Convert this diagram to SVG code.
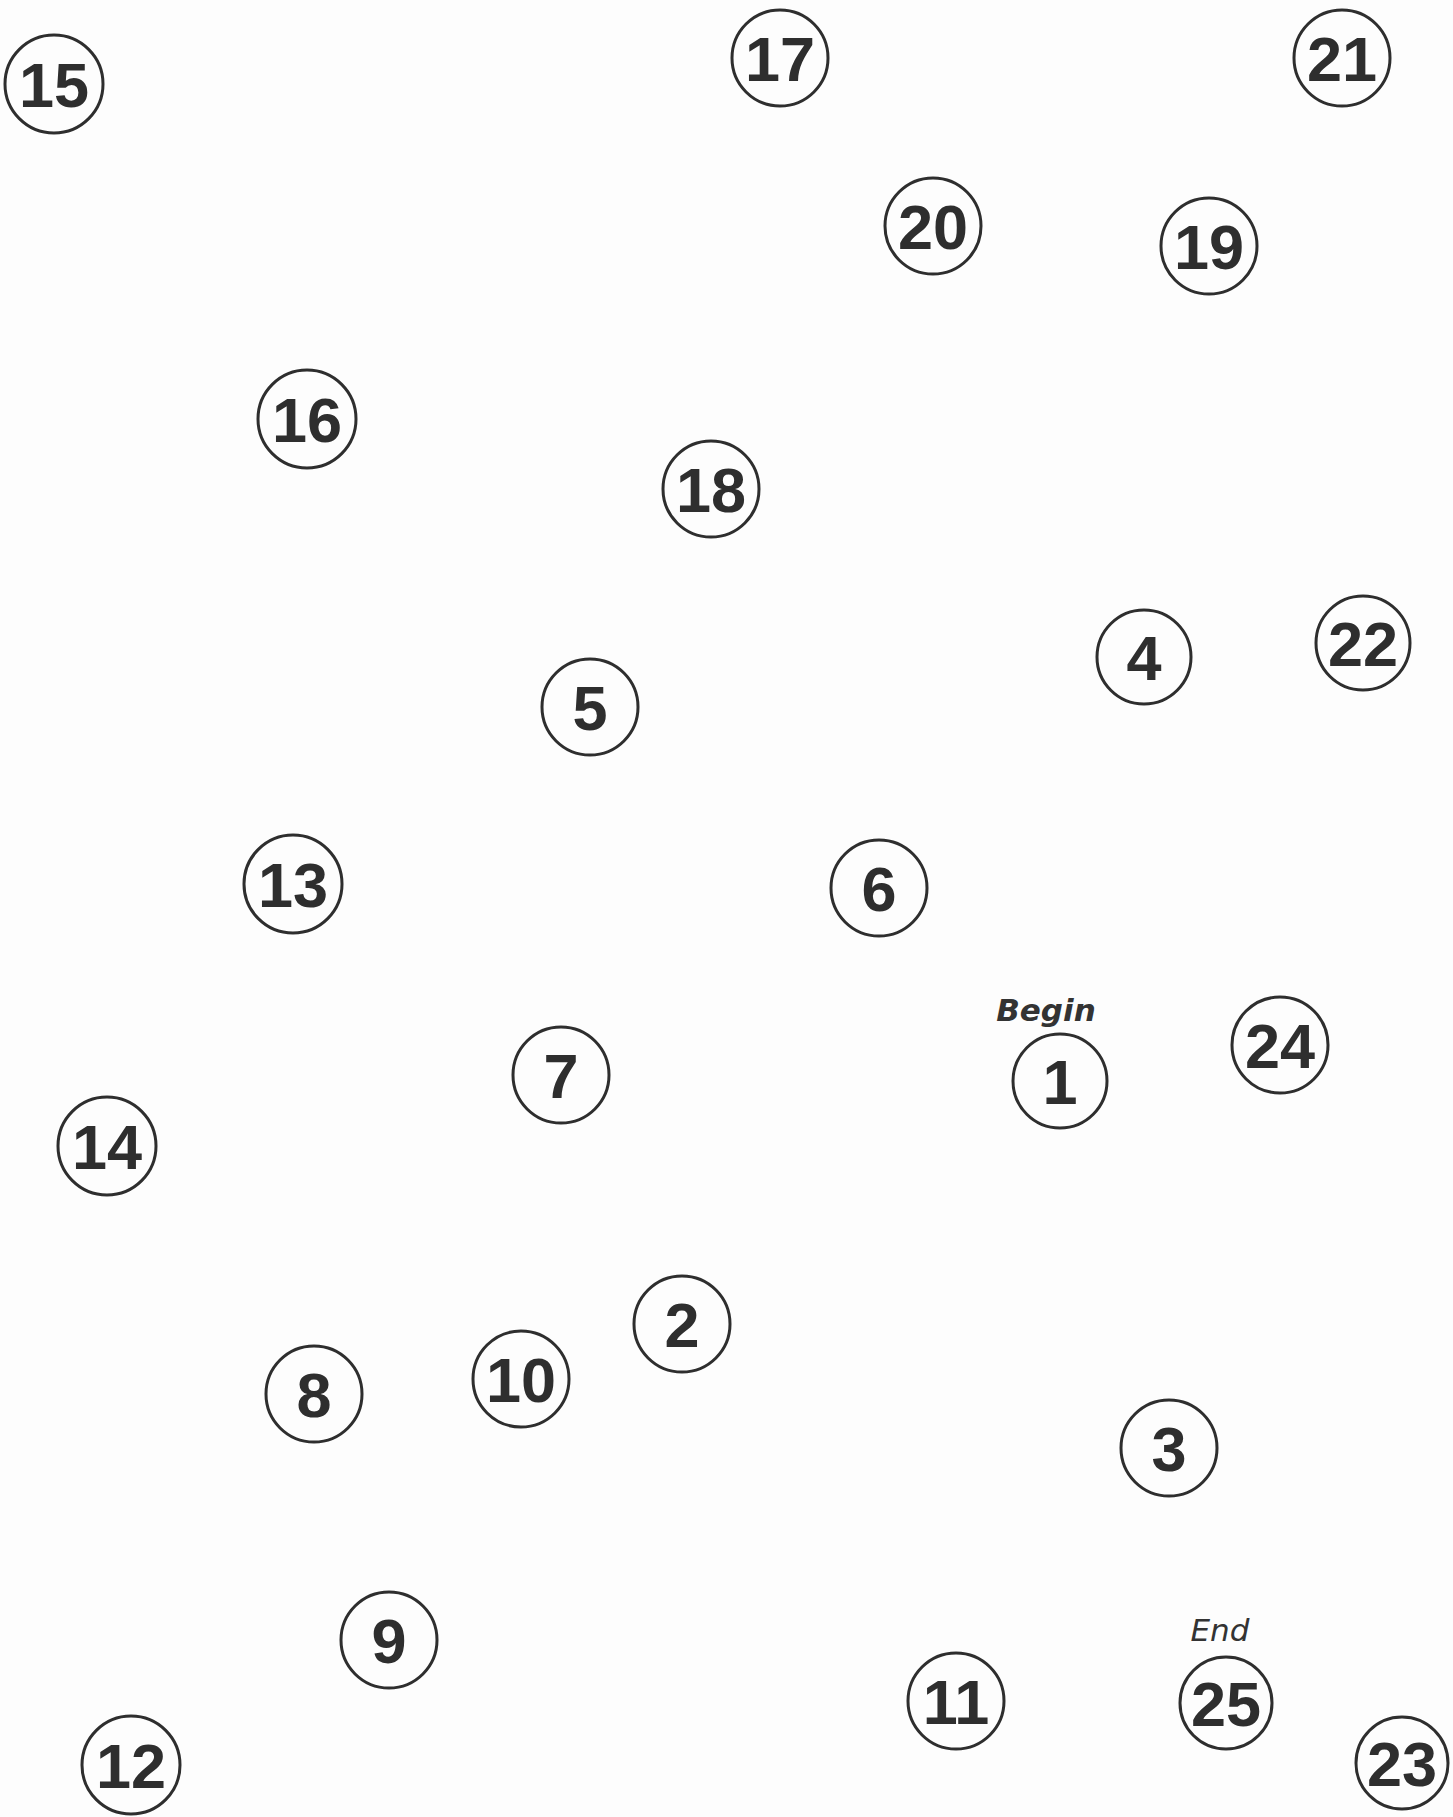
<svg xmlns="http://www.w3.org/2000/svg" width="1453" height="1817" viewBox="0 0 1453 1817">
<style>
.n circle{fill:none;stroke:#2e2e2e;stroke-width:3}
.n text{font-family:"Liberation Sans",Arial,sans-serif;font-weight:bold;font-size:63px;fill:#2e2e2e;text-anchor:middle}
.n text.lbl{font-family:"DejaVu Sans",sans-serif;font-style:italic;fill:#333}
</style>
<rect width="1453" height="1817" fill="#fdfdfd"/>
<g id="connectors"></g>
<g id="n15" class="n"><circle cx="54" cy="84" r="49"/><text x="54" y="107">15</text></g>
<g id="n17" class="n"><circle cx="780" cy="58" r="48"/><text x="780" y="81">17</text></g>
<g id="n21" class="n"><circle cx="1342" cy="58" r="48"/><text x="1342" y="81">21</text></g>
<g id="n20" class="n"><circle cx="933" cy="226" r="48"/><text x="933" y="249">20</text></g>
<g id="n19" class="n"><circle cx="1209" cy="246" r="48"/><text x="1209" y="269">19</text></g>
<g id="n16" class="n"><circle cx="307" cy="419" r="49"/><text x="307" y="442">16</text></g>
<g id="n18" class="n"><circle cx="711" cy="489" r="48"/><text x="711" y="512">18</text></g>
<g id="n4" class="n"><circle cx="1144" cy="657" r="47"/><text x="1144" y="680">4</text></g>
<g id="n22" class="n"><circle cx="1363" cy="643" r="47"/><text x="1363" y="666">22</text></g>
<g id="n5" class="n"><circle cx="590" cy="707" r="48"/><text x="590" y="730">5</text></g>
<g id="n13" class="n"><circle cx="293" cy="884" r="49"/><text x="293" y="907">13</text></g>
<g id="n6" class="n"><circle cx="879" cy="888" r="48"/><text x="879" y="911">6</text></g>
<g id="n1" class="n"><circle cx="1060" cy="1081" r="47"/><text x="1060" y="1104">1</text><text class="lbl" x="1046" y="1021" style="font-size:31px;font-weight:bold">Begin</text></g>
<g id="n24" class="n"><circle cx="1280" cy="1045" r="48"/><text x="1280" y="1068">24</text></g>
<g id="n7" class="n"><circle cx="561" cy="1075" r="48"/><text x="561" y="1098">7</text></g>
<g id="n14" class="n"><circle cx="107" cy="1146" r="49"/><text x="107" y="1169">14</text></g>
<g id="n2" class="n"><circle cx="682" cy="1324" r="48"/><text x="682" y="1347">2</text></g>
<g id="n8" class="n"><circle cx="314" cy="1394" r="48"/><text x="314" y="1417">8</text></g>
<g id="n10" class="n"><circle cx="521" cy="1379" r="48"/><text x="521" y="1402">10</text></g>
<g id="n3" class="n"><circle cx="1169" cy="1448" r="48"/><text x="1169" y="1471">3</text></g>
<g id="n9" class="n"><circle cx="389" cy="1640" r="48"/><text x="389" y="1663">9</text></g>
<g id="n25" class="n"><circle cx="1226" cy="1703" r="46"/><text x="1226" y="1726">25</text><text class="lbl" x="1220" y="1641" style="font-size:31px;font-weight:normal">End</text></g>
<g id="n11" class="n"><circle cx="956" cy="1701" r="48"/><text x="956" y="1724">11</text></g>
<g id="n12" class="n"><circle cx="131" cy="1765" r="49"/><text x="131" y="1788">12</text></g>
<g id="n23" class="n"><circle cx="1402" cy="1763" r="46"/><text x="1402" y="1786">23</text></g>
</svg>
